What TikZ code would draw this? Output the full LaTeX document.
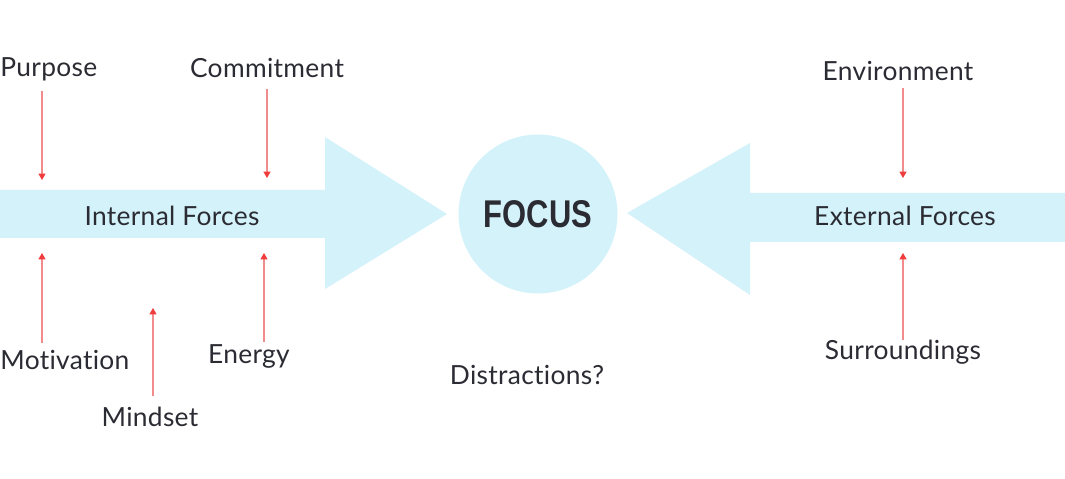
\documentclass[tikz,border=0pt]{standalone}
\usepackage{fontspec}
\usepackage{tikz}
\usetikzlibrary{positioning,calc}
\usetikzlibrary{arrows.meta}
\setmainfont[LetterSpace=1.2,Ligatures={NoCommon}]{Lato}
\newfontfamily\focusfont[FakeStretch=0.8]{Liberation Sans}
\definecolor{theme}{RGB}{212, 242, 250}
\definecolor{ink}{RGB}{43, 43, 51}
\definecolor{pull}{RGB}{242, 140, 140}
\definecolor{pullhead}{RGB}{240, 60, 60}

\tikzset{
  label/.style={text=ink, font=\fontsize{15}{17}\selectfont, inner sep=0pt},
  force/.style={draw=pull, line width=0.6pt,
    -{Triangle[length=3.6pt,width=4pt,color=pullhead]}},
}

\begin{document}
\begin{tikzpicture}[x=0.02cm, y=-0.02cm]
  \useasboundingbox (0,0) rectangle (1065,479);

  % big arrows
  \fill[theme] (0,190) -- (325,190) -- (325,137) -- (447,214)
    -- (325,289) -- (325,238) -- (0,238) -- cycle;
  \fill[theme] (1065,193) -- (750,193) -- (750,143) -- (627,213)
    -- (750,295) -- (750,242) -- (1065,242) -- cycle;

  \node[circle, fill=theme, minimum size=3.18cm, inner sep=0pt,
    text=ink, font=\focusfont\bfseries\fontsize{22}{24}\selectfont] (focus) at (538,214) {FOCUS};

  \node[label] (internal) at (172,216) {Internal Forces};
  \node[label] (external) at (905,216) {External Forces};

  % labels
  \node[label, anchor=west] (purpose) at (0,69) {Purpose};
  \node[label] (commitment) at (267,68) {Commitment};
  \node[label, anchor=west] (motivation) at (0,360) {Motivation};
  \node[label] (energy) at (249,356) {Energy};
  \node[label] (mindset) at (150,417) {Mindset};
  \node[label] (distractions) at (527,375) {Distractions?};
  \node[label] (environment) at (898,71) {Environment};
  \node[label] (surroundings) at (903,352) {Surroundings};

  % arrow ends
  \coordinate (pur1) at (42,91);   \coordinate (pur2) at (42,180);
  \coordinate (com1) at (267,89);  \coordinate (com2) at (267,178);
  \coordinate (mot1) at (42,343);  \coordinate (mot2) at (42,253);
  \coordinate (ene1) at (264,342); \coordinate (ene2) at (264,253);
  \coordinate (min1) at (153,396); \coordinate (min2) at (153,308);
  \coordinate (env1) at (903,88);  \coordinate (env2) at (903,178);
  \coordinate (sur1) at (903,340); \coordinate (sur2) at (903,253);

  \draw[force] (pur1) -- (pur2);
  \draw[force] (com1) -- (com2);
  \draw[force] (mot1) -- (mot2);
  \draw[force] (ene1) -- (ene2);
  \draw[force] (min1) -- (min2);
  \draw[force] (env1) -- (env2);
  \draw[force] (sur1) -- (sur2);
\end{tikzpicture}
\end{document}
